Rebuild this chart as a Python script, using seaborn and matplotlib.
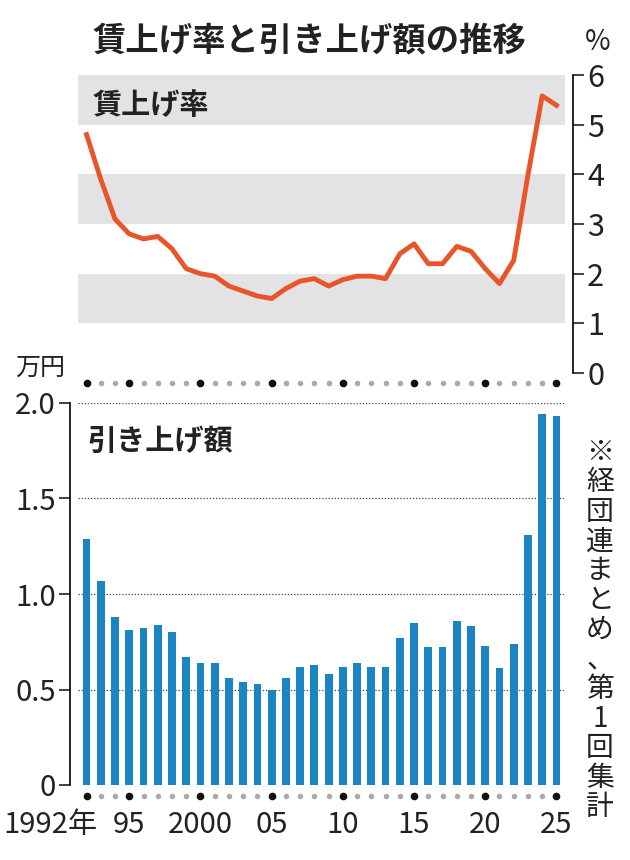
import numpy as np
import pandas as pd
import seaborn as sns
import matplotlib
matplotlib.use("Agg")
import matplotlib.pyplot as plt

plt.rcParams["font.family"] = "Noto Sans CJK JP"

years = list(range(1992, 2026))
rate = [4.8, 3.9, 3.1, 2.8, 2.7, 2.75, 2.5, 2.1, 2.0, 1.95, 1.75, 1.65, 1.55, 1.5,
        1.7, 1.85, 1.9, 1.75, 1.88, 1.95, 1.95, 1.9, 2.4, 2.6, 2.2, 2.2, 2.55, 2.45,
        2.1, 1.8, 2.27, 3.99, 5.58, 5.39]
amount = [1.29, 1.07, 0.88, 0.81, 0.82, 0.84, 0.80, 0.67, 0.64, 0.64, 0.56, 0.54,
          0.53, 0.50, 0.56, 0.62, 0.63, 0.58, 0.62, 0.64, 0.62, 0.62, 0.77, 0.85,
          0.72, 0.72, 0.86, 0.83, 0.73, 0.61, 0.74, 1.31, 1.94, 1.93]
xtick_labels = {1992: "1992年", 1995: "95", 2000: "2000", 2005: "05", 2010: "10",
                2015: "15", 2020: "20", 2025: "25"}

df = pd.DataFrame({"year": years, "rate": rate, "amount": amount})
df["pos"] = np.arange(len(df))

W, H = 630, 860
fig = plt.figure(figsize=(W / 100, H / 100), dpi=100)

def fax(l, t, r, b):
    return fig.add_axes([l / W, 1 - b / H, (r - l) / W, (b - t) / H])

xl = (-0.6, len(df) - 0.4)

# top: rate line
ax1 = fax(78, 75, 565, 373)
for lo in (1, 3, 5):
    ax1.axhspan(lo, lo + 1, color="#e3e3e5", lw=0, zorder=0)
sns.lineplot(data=df, x="pos", y="rate", ax=ax1, color="#e9552a", lw=3.5, zorder=3)
ax1.set_xlim(xl)
ax1.set_ylim(0, 6)
ax1.yaxis.tick_right()
ax1.set_yticks(range(7))
ax1.tick_params(axis="y", length=8, width=1.2, labelsize=22, pad=2, colors="#222")
ax1.set_xticks([])
for s in ("top", "left", "bottom"):
    ax1.spines[s].set_visible(False)
ax1.spines["right"].set_linewidth(1.2)
ax1.spines["right"].set_position(("outward", 6))
ax1.set_xlabel("")
ax1.set_ylabel("")
ax1.text(0.03, 0.9, "賃上げ率", transform=ax1.transAxes, fontsize=21, va="center",
         fontweight="bold", color="#222")

# bottom: amount bars
ax2 = fax(78, 403, 565, 785)
ax2.bar(df["pos"], df["amount"], width=0.55, color="#1a85c2", zorder=3)
ax2.set_xlim(xl)
ax2.set_ylim(0, 2.0)
ax2.set_yticks([0, 0.5, 1.0, 1.5, 2.0])
ax2.set_yticklabels(["0", "0.5", "1.0", "1.5", "2.0"])
ax2.tick_params(axis="y", length=8, width=1.2, labelsize=21, pad=2, colors="#222")
for yv in (0.5, 1.0, 1.5, 2.0):
    ax2.axhline(yv, color="#444", lw=0.9, ls=(0, (1, 1.5)), zorder=1)
ax2.set_xticks([])
for s in ("top", "right", "bottom"):
    ax2.spines[s].set_visible(False)
ax2.spines["left"].set_linewidth(1.2)
ax2.spines["left"].set_position(("outward", 6))
ax2.text(0.02, 0.9, "引き上げ額", transform=ax2.transAxes, fontsize=21, va="center",
         fontweight="bold", color="#222")

# year dot rows and labels
for yfig in (383, 796):
    dax = fax(78, yfig - 5, 565, yfig + 5)
    dax.set_xlim(xl)
    dax.set_ylim(-1, 1)
    dax.axis("off")
    for p, yr in zip(df["pos"], df["year"]):
        big = yr in xtick_labels
        dax.plot(p, 0, "o", ms=4.5 if big else 3, color="#111" if big else "#aaa")
lax = fax(78, 805, 565, 845)
lax.set_xlim(xl)
lax.set_ylim(0, 1)
lax.axis("off")
for p, yr in zip(df["pos"], df["year"]):
    if yr in xtick_labels:
        lax.text(p + 0.8 if yr == 1992 else p, 0.5, xtick_labels[yr],
                 ha="right" if yr == 1992 else "center",
                 va="center", fontsize=21, color="#222")

fig.text(310 / W, 1 - 42 / H, "賃上げ率と引き上げ額の推移", ha="center", va="center",
         fontsize=24, fontweight="bold", color="#222")
fig.text(598 / W, 1 - 42 / H, "%", ha="center", va="center", fontsize=20, color="#222")
fig.text(40 / W, 1 - 368 / H, "万円", ha="center", va="center", fontsize=18, color="#222")
fig.text(600 / W, 1 - 630 / H, "※\n経\n団\n連\nま\nと\nめ\n、\n第\n1\n回\n集\n計",
         ha="center", va="center", fontsize=20, linespacing=0.98, color="#222")

fig.savefig("out.png", dpi=100, facecolor="white")
